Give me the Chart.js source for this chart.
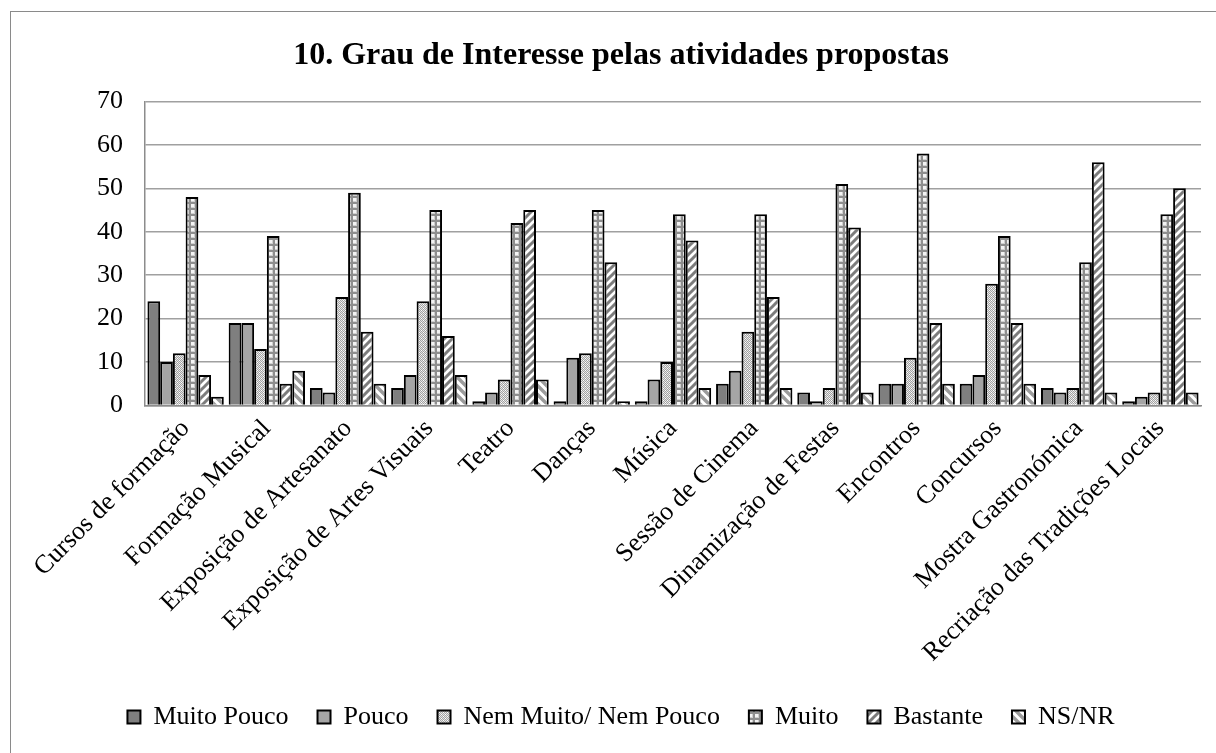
<!DOCTYPE html>
<html><head><meta charset="utf-8">
<script src="https://cdn.jsdelivr.net/npm/chart.js@4.4.1/dist/chart.umd.min.js"></script>
<style>
html,body{margin:0;padding:0;background:#fff;overflow:hidden;width:1216px;height:753px;}
#frame{position:absolute;left:10px;top:11px;width:1222px;height:760px;border:1px solid #8a8a8a;}
canvas{display:block;}
</style></head><body>
<div id="frame"><canvas id="c" width="1222" height="760"></canvas></div>
<script>
const chartTitle = '10. Grau de Interesse pelas atividades propostas';
const categories = ['Cursos de formação','Formação Musical','Exposição de Artesanato','Exposição de Artes Visuais','Teatro','Danças','Música','Sessão de Cinema','Dinamização de Festas','Encontros','Concursos','Mostra Gastronómica','Recriação das Tradições Locais'];
const seriesNames = ['Muito Pouco','Pouco','Nem Muito/ Nem Pouco','Muito','Bastante','NS/NR'];
const muitoPouco = [24,19,4,4,1,1,1,5,3,5,5,4,1];
const pouco = [10,19,3,7,3,11,6,8,1,5,7,3,2];
const nemMuitoNemPouco = [12,13,25,24,6,12,10,17,4,11,28,4,3];
const muito = [48,39,49,45,42,45,44,44,51,58,39,33,44];
const bastante = [7,5,17,16,45,33,38,25,41,19,19,56,50];
const nsnr = [2,8,5,7,6,1,4,4,3,5,5,3,3];
const yMin = 0, yMax = 70, yStep = 10;

const FONT = '"Liberation Serif", "Times New Roman", serif';
const mainCtx = document.getElementById('c').getContext('2d');

function makePattern(w, h, draw) {
  const t = document.createElement('canvas');
  t.width = w; t.height = h;
  const x = t.getContext('2d');
  draw(x, w, h);
  return mainCtx.createPattern(t, 'repeat');
}
const patNem = makePattern(4, 4, (x) => {
  x.fillStyle = '#e6e6e6'; x.fillRect(0,0,4,4);
  x.fillStyle = '#a2a2a2';
  x.fillRect(1,0,1,1); x.fillRect(3,0,1,1);
  x.fillRect(0,1,1,1); x.fillRect(2,1,1,1);
  x.fillRect(1,2,1,1); x.fillRect(3,2,1,1);
  x.fillRect(0,3,1,1); x.fillRect(2,3,1,1);
  x.fillStyle = '#ffffff'; x.fillRect(0,0,1,1); x.fillRect(2,2,1,1);
});
const patMuito = makePattern(6, 6, (x) => {
  x.fillStyle = '#f4f4f4'; x.fillRect(0,0,6,6);
  x.fillStyle = '#d0d0d0'; x.fillRect(0,3,4,1); x.fillRect(3,0,1,4);
  x.fillStyle = '#8e8e8e'; x.fillRect(0,4,6,2); x.fillRect(4,0,2,6);
});
const patBastante = makePattern(8, 8, (x) => {
  x.fillStyle = '#ffffff'; x.fillRect(0,0,8,8);
  x.strokeStyle = '#7c7c7c'; x.lineWidth = 3;
  x.beginPath();
  x.moveTo(-2,10); x.lineTo(10,-2);
  x.moveTo(-6,6); x.lineTo(6,-6);
  x.moveTo(2,14); x.lineTo(14,2);
  x.stroke();
});
const patNsnr = makePattern(9, 9, (x) => {
  x.fillStyle = '#ffffff'; x.fillRect(0,0,9,9);
  x.strokeStyle = '#9c9c9c'; x.lineWidth = 3.4;
  x.beginPath();
  x.moveTo(-2,-2); x.lineTo(11,11);
  x.moveTo(-11,-2); x.lineTo(2,11);
  x.moveTo(7,-2); x.lineTo(20,11);
  x.stroke();
});

const seriesValues = [muitoPouco, pouco, nemMuitoNemPouco, muito, bastante, nsnr];
const fills = ['#7f7f7f', '#a5a5a5', patNem, patMuito, patBastante, patNsnr];

const datasets = seriesNames.map((name, i) => ({
  label: name,
  data: seriesValues[i],
  backgroundColor: fills[i],
  borderColor: '#000000',
  borderWidth: 2,
  categoryPercentage: 0.94,
  barPercentage: 1.0
}));

new Chart(mainCtx, {
  type: 'bar',
  data: { labels: categories, datasets },
  options: {
    responsive: false,
    animation: false,
    devicePixelRatio: 1,
    layout: { padding: { top: 0, left: 30, right: 32, bottom: 32 } },
    plugins: {
      title: { display: true, text: chartTitle, color: '#000', font: { family: FONT, size: 32, weight: 'bold' }, padding: { top: 25, bottom: 26 } },
      legend: { position: 'bottom', labels: { color: '#000', font: { family: FONT, size: 26 }, boxWidth: 13, boxHeight: 13, padding: 29 } },
      tooltip: { enabled: false }
    },
    scales: {
      x: {
        grid: { display: false, drawTicks: false },
        border: { display: true, color: '#8c8c8c', width: 1.5 },
        ticks: { color: '#000', font: { family: FONT, size: 26 }, maxRotation: 45, minRotation: 45, autoSkip: false, padding: 8 },
        afterFit: (s) => { s.height = 269.5; }
      },
      y: {
        min: yMin, max: yMax,
        ticks: { stepSize: yStep, color: '#000', font: { family: FONT, size: 26 }, padding: 22 },
        grid: { color: '#a0a0a0', lineWidth: 1.5, drawTicks: false },
        border: { display: true, color: '#8c8c8c', width: 1.5 },
        afterFit: (s) => { s.width = 104; }
      }
    }
  }
});
</script>
</body></html>
